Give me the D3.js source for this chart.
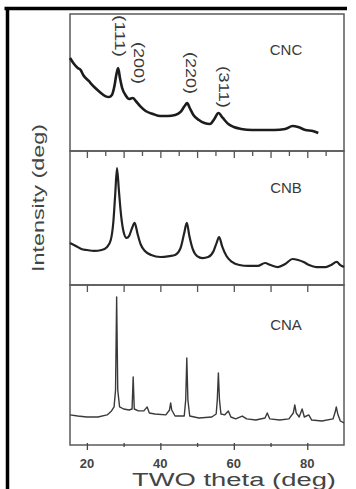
<!DOCTYPE html>
<html>
<head>
<meta charset="utf-8">
<script src="https://cdn.jsdelivr.net/npm/d3@7"></script>
<style>
  body { margin: 0; background: #fff; }
  svg { display: block; font-family: "Liberation Sans", Arial, sans-serif; }
</style>
</head>
<body>
<div id="chart"></div>
<script>
// XRD patterns, 2theta (deg) vs intensity (arbitrary, 0-100 per panel)
const cncTheta = [15.4,16.5,17.5,18.3,19.0,20.5,22.0,23.5,25.0,26.0,26.8,27.5,28.0,28.5,29.0,29.6,30.5,31.5,32.5,33.3,34.5,36.0,38.0,40.0,42.0,44.0,45.5,46.6,47.3,48.0,49.0,50.5,52.0,53.5,54.7,55.8,57.0,58.5,60.0,62.0,65.0,68.0,71.0,74.0,76.0,77.5,79.5,81.5,83.0];
const cncIntensity = [67.9,63.5,60.6,59.1,55.5,51.1,46.7,43.1,40.1,39.4,40.9,47.4,55.5,60.6,53.3,46.0,40.9,38.0,38.7,36.5,32.8,29.2,27.0,25.5,25.5,26.3,28.5,32.8,35.0,31.4,26.3,22.6,20.4,19.7,23.4,27.7,24.1,19.7,17.5,16.1,15.3,15.3,15.3,16.1,18.2,17.5,15.3,14.6,13.1];

const cnbTheta = [15.4,17.0,18.5,20.0,22.0,24.0,25.5,26.5,27.2,27.7,28.2,28.7,29.3,30.0,30.8,31.5,32.3,33.0,33.8,34.6,35.8,37.5,40.0,42.5,44.0,45.5,46.5,47.2,47.9,48.8,50.0,51.5,53.0,54.5,55.3,56.0,56.8,58.0,59.5,61.5,64.0,66.5,68.5,70.0,72.0,74.0,76.0,77.5,79.0,80.5,82.5,85.0,86.5,88.0,89.0,90.0];
const cnbIntensity = [31.3,29.1,26.9,26.1,25.4,26.1,28.4,33.6,47.0,67.2,87.3,70.9,52.2,39.6,35.1,36.6,42.5,46.3,38.1,30.6,25.4,22.4,20.9,21.6,22.4,27.6,38.8,46.3,36.6,26.9,21.6,20.1,20.9,25.4,31.3,35.8,29.1,21.6,17.2,14.9,14.2,14.2,16.4,14.9,13.4,15.7,19.4,18.7,17.2,14.9,13.4,13.4,14.9,17.2,14.9,13.4];

const cnaTheta = [15.4,17.5,20.0,23.0,25.5,26.7,27.4,27.8,28.1,28.4,28.9,30.0,31.5,32.3,32.6,32.9,34.0,35.5,36.4,37.0,38.5,41.5,42.5,42.8,43.1,44.0,46.5,46.9,47.2,47.5,48.0,50.5,54.0,55.2,55.5,55.8,56.1,56.5,57.5,58.5,59.2,60.5,62.3,63.5,66.0,68.5,69.1,69.8,72.5,75.0,76.2,76.6,77.0,77.8,78.6,79.2,80.4,81.2,84.0,87.0,87.6,87.9,88.3,89.0,90.0];
const cnaIntensity = [18.8,18.1,17.5,17.5,18.8,21.3,23.8,34.4,92.5,34.4,23.8,22.5,21.9,22.5,42.5,22.5,21.3,21.3,23.8,20.0,19.4,18.8,21.9,26.3,21.9,18.1,18.1,28.1,54.4,28.1,18.1,16.9,17.5,19.4,28.1,45.0,28.1,19.4,18.8,21.3,17.5,16.3,18.1,16.3,15.6,16.9,20.0,16.3,15.6,16.3,20.0,25.0,20.0,17.5,22.5,17.5,18.8,15.6,15.0,16.3,20.6,23.8,19.4,15.0,13.8];

const sampleNames = ["CNC", "CNB", "CNA"];
const peakLabels = ["(111)", "(200)", "(220)", "(311)"];
const peakTheta = [28.9, 34.2, 48.3, 57.3];
const xTicks = [20, 40, 60, 80];

const W = 356, H = 489;
const left = 70, right = 344;

const svg = d3.select("#chart").append("svg")
  .attr("width", W)
  .attr("height", H);

// black frame of the figure (top and left)
svg.append("line").attr("x1", 4.5).attr("x2", 347).attr("y1", 8.5).attr("y2", 8.5)
  .attr("stroke", "#000").attr("stroke-width", 3.5);
svg.append("line").attr("x1", 7.5).attr("x2", 7.5).attr("y1", 7).attr("y2", H)
  .attr("stroke", "#000").attr("stroke-width", 3.5);

const x = d3.scaleLinear().domain([15.4, 90]).range([left, right]);

const panels = [
  { name: sampleNames[0], theta: cncTheta, val: cncIntensity, top: 14, bottom: 151, width: 2.6, curve: d3.curveMonotoneX, color: "#1c1c1c" },
  { name: sampleNames[1], theta: cnbTheta, val: cnbIntensity, top: 151, bottom: 285, width: 2.2, curve: d3.curveMonotoneX, color: "#222" },
  { name: sampleNames[2], theta: cnaTheta, val: cnaIntensity, top: 285, bottom: 445, width: 1.4, curve: d3.curveLinear, color: "#3a3a3a" }
];

panels.forEach((p, i) => {
  const y = d3.scaleLinear().domain([0, 100]).range([p.bottom, p.top]);
  const g = svg.append("g");

  // frame
  g.append("rect")
    .attr("x", left).attr("y", p.top)
    .attr("width", right - left).attr("height", p.bottom - p.top)
    .attr("fill", "none")
    .attr("stroke", "#5a5a5a")
    .attr("stroke-width", 1.5);

  const line = d3.line()
    .x((d, k) => x(p.theta[k]))
    .y(d => y(d))
    .curve(p.curve);

  g.append("path")
    .datum(p.val)
    .attr("d", line)
    .attr("fill", "none")
    .attr("stroke", p.color)
    .attr("stroke-width", p.width)
    .attr("stroke-linejoin", "round");

  g.append("text")
    .attr("x", 286)
    .attr("y", i === 0 ? 55 : i === 1 ? 193 : 330)
    .attr("text-anchor", "middle")
    .attr("font-size", 15)
    .attr("fill", "#3a3a3a")
    .text(p.name);
});

// ticks along the panel boundaries (pointing down into the lower panel)
const tickG1 = svg.append("g").attr("transform", "translate(0,151)")
  .call(d3.axisBottom(x).tickValues(d3.range(20, 90, 5)).tickSize(0).tickFormat(""));
tickG1.select(".domain").remove();
tickG1.selectAll(".tick").append("line")
  .attr("y2", d => d % 10 === 0 ? 7 : 5)
  .attr("stroke", "#555").attr("stroke-width", 1.3);

const tickG2 = svg.append("g").attr("transform", "translate(0,285)")
  .call(d3.axisBottom(x).tickValues(d3.range(20, 90, 10)).tickSize(7).tickFormat(""));
tickG2.select(".domain").remove();
tickG2.selectAll(".tick line").attr("stroke", "#555").attr("stroke-width", 1.3);

// bottom axis
const bottomAxis = svg.append("g").attr("transform", "translate(0,445)")
  .call(d3.axisBottom(x).tickValues(d3.range(20, 90, 10)).tickSize(0).tickFormat(""));
bottomAxis.select(".domain").remove();
bottomAxis.selectAll(".tick").append("line")
  .attr("y1", -2)
  .attr("y2", d => d % 20 === 0 ? 5 : 2)
  .attr("stroke", "#444").attr("stroke-width", 1.3);

svg.append("g").selectAll("text")
  .data(xTicks)
  .join("text")
  .attr("x", d => x(d))
  .attr("y", 468)
  .attr("text-anchor", "middle")
  .attr("font-size", 13)
  .attr("font-weight", "bold")
  .attr("fill", "#444")
  .text(d => d);

// peak (hkl) labels, rotated
const peakY = [36, 63, 73, 87];
svg.append("g").selectAll("text")
  .data(peakLabels)
  .join("text")
  .attr("transform", (d, k) => `translate(${x(peakTheta[k]) - 5},${peakY[k]}) rotate(90)`)
  .attr("text-anchor", "middle")
  .attr("font-size", 14)
  .attr("textLength", 42)
  .attr("lengthAdjust", "spacingAndGlyphs")
  .attr("fill", "#3a3a3a")
  .text(d => d);

// axis titles
svg.append("text")
  .attr("transform", "translate(44,198) rotate(-90)")
  .attr("text-anchor", "middle")
  .attr("font-size", 17)
  .attr("textLength", 148)
  .attr("lengthAdjust", "spacingAndGlyphs")
  .attr("fill", "#444")
  .text("Intensity (deg)");

svg.append("text")
  .attr("x", 234)
  .attr("y", 486)
  .attr("text-anchor", "middle")
  .attr("font-size", 18)
  .attr("textLength", 204)
  .attr("lengthAdjust", "spacingAndGlyphs")
  .attr("fill", "#444")
  .text("TWO theta (deg)");
</script>
</body>
</html>
